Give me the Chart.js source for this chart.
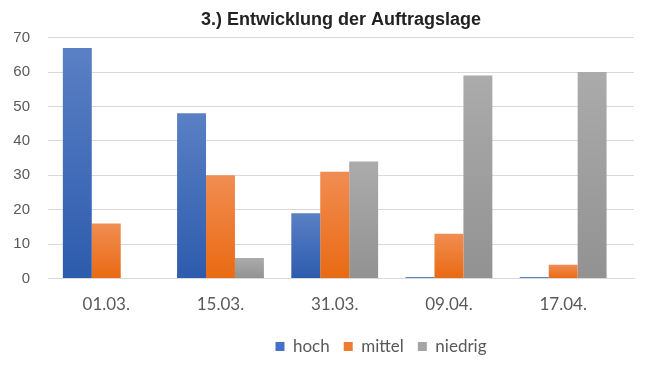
<!DOCTYPE html>
<html>
<head>
<meta charset="utf-8">
<script src="https://cdn.jsdelivr.net/npm/chart.js@4"></script>
<style>
  html, body { margin: 0; padding: 0; background: #fff; }
  #wrap { width: 649px; height: 371px; position: relative; }
</style>
</head>
<body>
<div id="wrap"><canvas id="c" width="649" height="371"></canvas></div>
<script>
const categories = ['01.03.', '15.03.', '31.03.', '09.04.', '17.04.'];
const hoch = [67, 48, 19, 0.4, 0.4];
const mittel = [16, 30, 31, 13, 4];
const niedrig = [0, 6, 34, 59, 60];
const seriesNames = ['hoch', 'mittel', 'niedrig'];
const yTicks = [0, 10, 20, 30, 40, 50, 60, 70];

const palette = {
  hoch:    { top: '#5a80c4', bottom: '#2d5bad', solid: '#4472c4' },
  mittel:  { top: '#f18d52', bottom: '#e96a12', solid: '#ed7d31' },
  niedrig: { top: '#ababab', bottom: '#929292', solid: '#a5a5a5' }
};

function toPoints(values) {
  return values.map((v, i) => ({ x: i, y: v }));
}

function gradFor(name) {
  return function (ctx) {
    const chart = ctx.chart;
    const p = palette[name];
    if (!chart.chartArea || ctx.type !== 'data') return p.solid;
    const ys = chart.scales.y;
    const v = ctx.parsed.y;
    const y0 = ys.getPixelForValue(0);
    const y1 = ys.getPixelForValue(v);
    if (Math.abs(y0 - y1) < 2) return p.bottom;
    const g = chart.ctx.createLinearGradient(0, y1, 0, y0);
    g.addColorStop(0, p.top);
    g.addColorStop(1, p.bottom);
    return g;
  };
}

const shiftLegend = {
  id: 'shiftLegend',
  afterLayout(chart) {
    const lg = chart.legend;
    if (lg) { lg.left += 40; lg.right += 40; }
  }
};

new Chart(document.getElementById('c'), {
  type: 'bar',
  data: {
    datasets: [
      { label: seriesNames[0], data: toPoints(hoch), backgroundColor: gradFor('hoch'), borderWidth: 0 },
      { label: seriesNames[1], data: toPoints(mittel), backgroundColor: gradFor('mittel'), borderWidth: 0 },
      { label: seriesNames[2], data: toPoints(niedrig), backgroundColor: gradFor('niedrig'), borderWidth: 0 }
    ]
  },
  options: {
    responsive: false,
    animation: false,
    devicePixelRatio: 1,
    layout: { autoPadding: false, padding: { left: 0, right: 15, top: 0, bottom: 6 } },
    datasets: { bar: { barPercentage: 1.0, categoryPercentage: 0.76 } },
    plugins: {
      title: {
        display: true,
        text: '3.) Entwicklung der Auftragslage',
        fullSize: false,
        color: '#222222',
        font: { family: '"Liberation Sans", Arial, sans-serif', size: 18, weight: 'bold' },
        padding: { top: 9, bottom: 7 }
      },
      legend: {
        position: 'bottom',
        fullSize: false,
        labels: {
          boxWidth: 9,
          boxHeight: 9,
          color: '#595959',
          padding: 14,
          font: { family: 'Lato, "Open Sans", sans-serif', size: 17 },
          generateLabels(chart) {
            return chart.data.datasets.map((ds, i) => ({
              text: ds.label,
              fillStyle: palette[ds.label].solid,
              strokeStyle: palette[ds.label].solid,
              lineWidth: 0,
              hidden: false,
              datasetIndex: i,
              fontColor: '#595959'
            }));
          }
        }
      },
      tooltip: { enabled: false }
    },
    scales: {
      x: {
        type: 'linear',
        min: -0.51,
        max: 4.62,
        offset: false,
        afterBuildTicks(s) { s.ticks = categories.map((c, i) => ({ value: i })); },
        grid: { display: false, drawTicks: false, offset: false },
        border: { display: true, color: '#d9d9d9', width: 1 },
        ticks: {
          color: '#595959',
          padding: 16,
          autoSkip: false,
          maxRotation: 0,
          font: { family: 'Lato, "Open Sans", sans-serif', size: 17 },
          callback(value) { return categories[value]; }
        },
        afterFit(s) { s.height -= 7; }
      },
      y: {
        min: 0,
        max: 70,
        afterBuildTicks(s) { s.ticks = yTicks.map(v => ({ value: v })); },
        afterFit(s) { s.width = 48; },
        grid: { color: '#d9d9d9', lineWidth: 1, drawTicks: false },
        border: { display: false },
        ticks: {
          color: '#595959',
          padding: 18,
          font: { family: '"Liberation Sans", Arial, sans-serif', size: 15 }
        }
      }
    }
  },
  plugins: [shiftLegend]
});
</script>
</body>
</html>
